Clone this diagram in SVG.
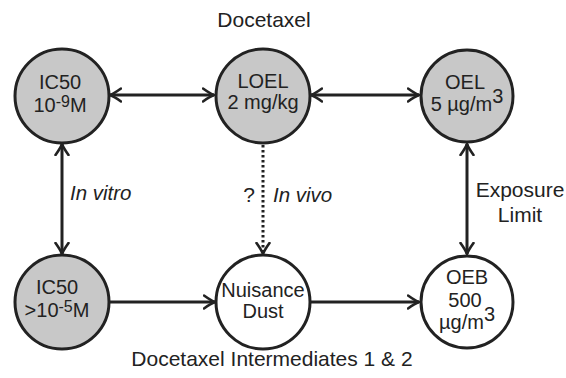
<svg xmlns="http://www.w3.org/2000/svg" width="566" height="378" viewBox="0 0 566 378">
<style>
  .t { font-family: "Liberation Sans", Arial, sans-serif; font-size: 20px; fill: #222; text-anchor: middle; }
  .l { font-family: "Liberation Sans", Arial, sans-serif; font-size: 21px; fill: #222; text-anchor: middle; }
  .i { font-family: "Liberation Sans", Arial, sans-serif; font-size: 20.5px; fill: #222; font-style: italic; }
  .gray { fill: #c8c8c8; stroke: #222; stroke-width: 3; }
  .white { fill: #ffffff; stroke: #222; stroke-width: 3; }
  .c { stroke: #222; stroke-width: 3; fill: none; }
  .dot { stroke: #222; stroke-width: 3; fill: none; stroke-dasharray: 2.6 2.4; }
  .sup { font-size: 16px; }
</style>
<defs>
  <marker id="ah" markerUnits="userSpaceOnUse" viewBox="-12 -8 14 16" markerWidth="14" markerHeight="16" refX="0" refY="0" orient="auto-start-reverse">
    <path d="M-11,-6.5 Q-4,-1.5 0,0 Q-4,1.5 -11,6.5" fill="none" stroke="#222" stroke-width="2.6" stroke-linecap="round" stroke-linejoin="round"/>
  </marker>
</defs>
<rect width="566" height="378" fill="#ffffff"/>

<text class="l" x="264" y="27">Docetaxel</text>
<text class="l" x="272" y="366">Docetaxel Intermediates 1 &amp; 2</text>

<g id="connectors">
  <line class="c" x1="110" y1="95" x2="214" y2="95" marker-start="url(#ah)" marker-end="url(#ah)"/>
  <line class="c" x1="311" y1="95" x2="419" y2="95" marker-start="url(#ah)" marker-end="url(#ah)"/>
  <line class="c" x1="62" y1="144" x2="62" y2="254" marker-start="url(#ah)" marker-end="url(#ah)"/>
  <line class="c" x1="467" y1="144" x2="467" y2="254" marker-start="url(#ah)" marker-end="url(#ah)"/>
  <line class="dot" x1="263" y1="145" x2="263" y2="252"/>
  <line class="c" x1="263" y1="240" x2="263" y2="254" stroke-opacity="0" marker-end="url(#ah)"/>
  <line class="c" x1="110" y1="302" x2="215" y2="302" marker-end="url(#ah)"/>
  <line class="c" x1="311" y1="302" x2="419" y2="302" marker-end="url(#ah)"/>
  <text class="i" x="70" y="200">In vitro</text>
  <text class="l" x="249" y="202">?</text>
  <text class="i" x="273" y="202">In vivo</text>
  <text class="l" x="520" y="197">Exposure</text>
  <text class="l" x="520" y="222">Limit</text>
</g>

<g id="ic50-top">
  <circle class="gray" cx="62" cy="96" r="47"/>
  <text class="t" x="60" y="89">IC50</text>
  <text class="t" x="60" y="112">10<tspan class="sup" dy="-5">-9</tspan><tspan dy="5">M</tspan></text>
</g>
<g id="loel">
  <circle class="gray" cx="263" cy="96" r="47"/>
  <text class="t" x="263" y="88">LOEL</text>
  <text class="t" x="263" y="109">2 mg/kg</text>
</g>
<g id="oel">
  <circle class="gray" cx="467" cy="96" r="46"/>
  <text class="t" x="465" y="89">OEL</text>
  <text class="t" x="467" y="111">5 µg/m<tspan dy="-8">3</tspan></text>
</g>
<g id="ic50-bottom">
  <circle class="gray" cx="62" cy="302" r="47"/>
  <text class="t" x="57" y="294">IC50</text>
  <text class="t" x="57" y="317">&gt;10<tspan class="sup" dy="-5">-5</tspan><tspan dy="5">M</tspan></text>
</g>
<g id="nuisance-dust">
  <circle class="white" cx="263" cy="302" r="47"/>
  <text class="t" x="263" y="297">Nuisance</text>
  <text class="t" x="263" y="318">Dust</text>
</g>
<g id="oeb">
  <circle class="white" cx="467" cy="302" r="46"/>
  <text class="t" x="467" y="284">OEB</text>
  <text class="t" x="465" y="307">500</text>
  <text class="t" x="467" y="329">µg/m<tspan dy="-8">3</tspan></text>
</g>
</svg>
